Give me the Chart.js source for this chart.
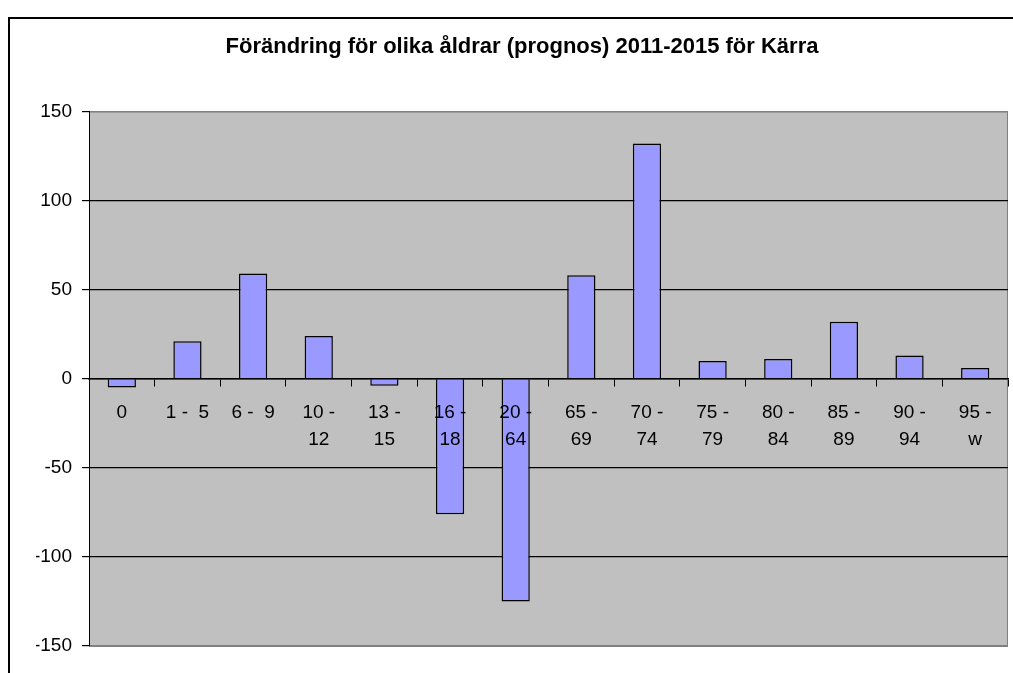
<!DOCTYPE html>
<html>
<head>
<meta charset="utf-8">
<title>Förändring för olika åldrar</title>
<script src="https://cdn.jsdelivr.net/npm/chart.js@4.4.1/dist/chart.umd.min.js"></script>
<style>
    html, body { margin: 0; padding: 0; background: #fff; }
    #wrap { width: 1013px; height: 673px; }
</style>
</head>
<body>
<div id="wrap"><canvas id="ageChart" width="1013" height="673"></canvas></div>
<script>
// Age groups (two-line labels like in the original sheet)
const categories = [
    '0', '1 -  5', '6 -  9',
    ['10 -', '12'], ['13 -', '15'], ['16 -', '18'], ['20 -', '64'],
    ['65 -', '69'], ['70 -', '74'], ['75 -', '79'], ['80 -', '84'],
    ['85 -', '89'], ['90 -', '94'], ['95 -', 'w']
];
// Change per age group 2011-2015
const changes = [-5, 21, 59, 24, -4, -76, -125, 58, 132, 10, 11, 32, 13, 6];
const yTicks = { min: -150, max: 150, step: 50 };
const chartTitle = 'Förändring för olika åldrar (prognos) 2011-2015 för Kärra';

const fontFamily = '"Liberation Sans", Arial, sans-serif';

// gray plot area + frame around the whole chart
const plotBackground = {
    id: 'plotBackground',
    beforeDraw(chart) {
        const { ctx, chartArea: a } = chart;
        ctx.save();
        ctx.strokeStyle = '#000';
        ctx.lineWidth = 2;
        ctx.strokeRect(9, 18, chart.width, chart.height);
        ctx.fillStyle = '#c0c0c0';
        ctx.fillRect(a.left, a.top, a.right - a.left, a.bottom - a.top);
        ctx.strokeStyle = '#808080';
        ctx.lineWidth = 1;
        ctx.strokeRect(a.left + 0.5, a.top + 0.5, a.right - a.left - 1, a.bottom - a.top);
        ctx.restore();
    }
};

const ctx = document.getElementById('ageChart').getContext('2d');
const ageChart = new Chart(ctx, {
    type: 'bar',
    data: {
        labels: categories,
        datasets: [{
            data: changes,
            backgroundColor: '#9999ff',
            borderColor: '#000',
            borderWidth: 1.5,
            categoryPercentage: 1,
            barPercentage: 0.43
        }]
    },
    options: {
        responsive: false,
        animation: false,
        layout: {
            padding: { left: 36, right: 5, top: 0, bottom: 27 }
        },
        scales: {
            x: {
                type: 'category',
                position: { y: 0 },
                offset: true,
                grid: {
                    offset: true,
                    drawOnChartArea: false,
                    drawTicks: true,
                    tickLength: 7,
                    color: '#000'
                },
                // labels and axis line go on top of the bars
                border: { display: true, color: '#000', width: 1.5, z: 1 },
                ticks: {
                    z: 1,
                    color: '#000',
                    font: { family: fontFamily, size: 19, lineHeight: 1.44 },
                    padding: 13,
                    maxRotation: 0,
                    autoSkip: false
                }
            },
            y: {
                min: yTicks.min,
                max: yTicks.max,
                afterFit: function (scale) {
                    scale.width = 53;
                },
                grid: {
                    color: function (c) {
                        // edges of the plot are drawn by the frame
                        if (c.tick && Math.abs(c.tick.value) === yTicks.max) return '#808080';
                        return '#000';
                    },
                    tickColor: '#000',
                    tickLength: 7,
                    lineWidth: 1.2
                },
                border: { display: true, color: '#000', width: 1 },
                ticks: {
                    stepSize: yTicks.step,
                    color: '#000',
                    padding: 10,
                    font: { family: fontFamily, size: 19 }
                }
            }
        },
        plugins: {
            legend: { display: false },
            tooltip: { enabled: false },
            title: {
                display: true,
                text: chartTitle,
                color: '#000',
                font: { family: fontFamily, size: 22, weight: 'bold' },
                padding: { top: 34, bottom: 51 }
            }
        }
    },
    plugins: [plotBackground]
});
</script>
</body>
</html>
